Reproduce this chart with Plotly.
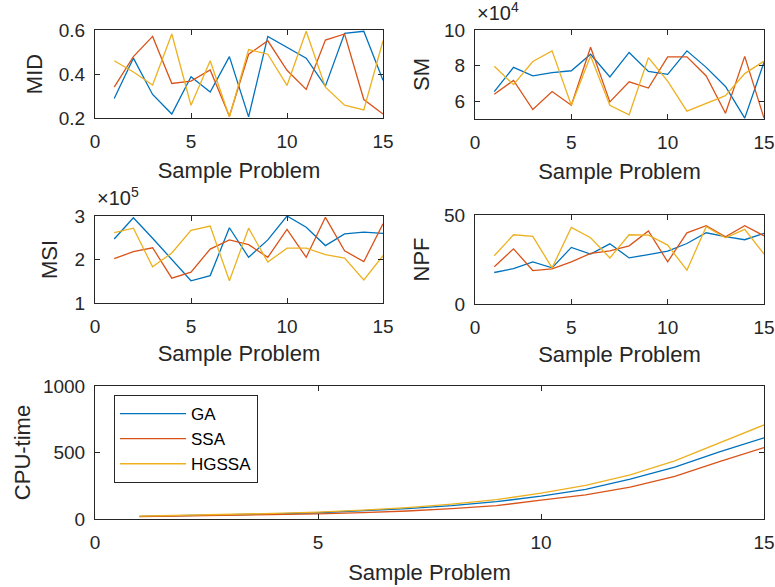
import plotly.graph_objects as go

x = list(range(1, 16))
series_names = ["GA", "SSA", "HGSSA"]
colors = ["#0072BD", "#D95319", "#EDB120"]

mid_ga = [0.289, 0.472, 0.307, 0.218, 0.388, 0.318, 0.479, 0.205, 0.571, 0.52, 0.472, 0.345, 0.585, 0.594, 0.371]
mid_ssa = [0.34, 0.479, 0.571, 0.357, 0.368, 0.418, 0.208, 0.49, 0.551, 0.417, 0.33, 0.554, 0.582, 0.284, 0.218]
mid_hgssa = [0.46, 0.409, 0.35, 0.582, 0.258, 0.46, 0.205, 0.511, 0.49, 0.348, 0.594, 0.34, 0.258, 0.237, 0.551]

sm_ga = [65400, 79000, 74200, 76100, 77100, 86400, 73600, 87400, 76700, 75100, 88300, 79000, 68300, 50500, 81900]
sm_ssa = [63900, 71700, 55300, 65400, 57700, 90300, 59600, 70900, 67400, 84900, 84900, 74200, 53200, 85200, 50500]
sm_hgssa = [79600, 69300, 82300, 88300, 57700, 85400, 57700, 52400, 84500, 71300, 54400, 58700, 63100, 75500, 82500]

msi_ga = [247000, 296000, 249000, 199000, 151000, 163000, 273000, 205000, 245000, 300000, 274000, 232000, 259000, 263000, 260000]
msi_ssa = [202000, 218000, 227000, 157000, 171000, 224000, 245000, 234000, 205000, 269000, 205000, 297000, 220000, 195000, 282000]
msi_hgssa = [262000, 272000, 183000, 215000, 267000, 277000, 151000, 272000, 194000, 226000, 226000, 211000, 203000, 153000, 209000]

npf_ga = [17.7, 19.9, 23.7, 20.3, 31.8, 28.0, 33.8, 25.9, 27.8, 29.7, 34.0, 40.0, 37.8, 36.1, 39.7]
npf_ssa = [20.9, 31.0, 18.8, 19.7, 23.7, 28.4, 29.9, 32.7, 41.0, 23.7, 40.0, 44.0, 37.8, 44.0, 38.3]
npf_hgssa = [27.1, 38.9, 38.0, 20.3, 43.0, 37.2, 25.9, 38.9, 38.7, 33.1, 19.0, 43.4, 37.2, 41.9, 28.0]

cpu_ga = [20, 25, 30, 38, 47, 60, 78, 100, 130, 172, 222, 300, 390, 505, 610]
cpu_ssa = [18, 22, 27, 32, 38, 48, 60, 78, 100, 142, 182, 240, 320, 432, 537]
cpu_hgssa = [22, 27, 33, 42, 52, 66, 86, 112, 145, 195, 252, 332, 437, 570, 707]

x_ticks = [0, 5, 10, 15]

W, H = 775, 587
def xd(a, b):
    return [a / W, b / W]
def yd(top, bottom):
    return [1 - bottom / H, 1 - top / H]

panels = [
    ("x", "y", [mid_ga, mid_ssa, mid_hgssa]),
    ("x2", "y2", [sm_ga, sm_ssa, sm_hgssa]),
    ("x3", "y3", [msi_ga, msi_ssa, msi_hgssa]),
    ("x4", "y4", [npf_ga, npf_ssa, npf_hgssa]),
    ("x5", "y5", [cpu_ga, cpu_ssa, cpu_hgssa]),
]

fig = go.Figure()
for xa, ya, data in panels:
    for name, col, vals in zip(series_names, colors, data):
        fig.add_trace(go.Scatter(
            x=x, y=vals, mode="lines", name=name, xaxis=xa, yaxis=ya,
            line=dict(color=col, width=1.3),
            showlegend=(xa == "x5"),
        ))

font_family = "Liberation Sans, Arial, sans-serif"
tick_font = dict(family=font_family, size=19, color="#262626")
title_font = dict(family=font_family, size=22, color="#262626")
AX = "#262626"

def xaxis(dom, anchor, standoff):
    return dict(domain=dom, anchor=anchor, range=[0, 15], tickvals=x_ticks,
                showline=True, mirror="ticks", linecolor=AX, linewidth=1,
                ticks="inside", ticklen=5, tickcolor=AX, showgrid=False,
                zeroline=False, tickfont=tick_font, automargin=False,
                ticklabelstandoff=6,
                title=dict(text="Sample Problem", font=title_font, standoff=standoff))

def yaxis(dom, anchor, rng, tvals, ttext, title, standoff):
    return dict(domain=dom, anchor=anchor, range=rng, tickvals=tvals, ticktext=ttext,
                showline=True, mirror="ticks", linecolor=AX, linewidth=1,
                ticks="inside", ticklen=5, tickcolor=AX, showgrid=False,
                zeroline=False, tickfont=tick_font, automargin=False,
                ticklabelstandoff=5,
                title=dict(text=title, font=title_font, standoff=standoff))

L1, R1 = 95, 383
L2, R2 = 475, 764

fig.update_layout(
    width=W, height=H,
    margin=dict(l=0, r=0, t=0, b=0),
    paper_bgcolor="white", plot_bgcolor="white",
    font=dict(family=font_family, color="#262626"),
    xaxis=xaxis(xd(L1, R1), "y", 11),
    yaxis=yaxis(yd(30, 118), "x", [0.2, 0.6], [0.2, 0.4, 0.6], ["0.2", "0.4", "0.6"], "MID", 10),
    xaxis2=xaxis(xd(L2, R2), "y2", 11),
    yaxis2=yaxis(yd(30, 119), "x2", [50000, 100000], [60000, 80000, 100000], ["6", "8", "10"], "SM", 8),
    xaxis3=xaxis(xd(L1, R1), "y3", 9),
    yaxis3=yaxis(yd(216, 303), "x3", [100000, 300000], [100000, 200000, 300000], ["1", "2", "3"], "MSI", 10),
    xaxis4=xaxis(xd(L2, R2), "y4", 9),
    yaxis4=yaxis(yd(215, 304), "x4", [0, 50], [0, 50], ["0", "50"], "NPF", 8),
    xaxis5=xaxis(xd(L1, R2), "y5", 12),
    yaxis5=yaxis(yd(386, 519), "x5", [0, 1000], [0, 500, 1000], ["0", "500", "1000"], "CPU-time", 6),
    legend=dict(x=114 / W, y=1 - 395 / H, xanchor="left", yanchor="top",
                bordercolor=AX, borderwidth=1, bgcolor="white", itemwidth=66,
                font=dict(family=font_family, size=17, color="black")),
    showlegend=True,
)

fig.add_annotation(xref="paper", yref="paper", x=475 / W, y=1 - 26 / H, xanchor="left", yanchor="bottom",
                   text="×10<sup>4</sup>", showarrow=False, font=dict(family=font_family, size=20, color=AX))
fig.add_annotation(xref="paper", yref="paper", x=95 / W, y=1 - 211 / H, xanchor="left", yanchor="bottom",
                   text="×10<sup>5</sup>", showarrow=False, font=dict(family=font_family, size=20, color=AX))

fig.write_html("out.html", config={"displayModeBar": False},
               post_script="document.body.style.margin='0px';")
